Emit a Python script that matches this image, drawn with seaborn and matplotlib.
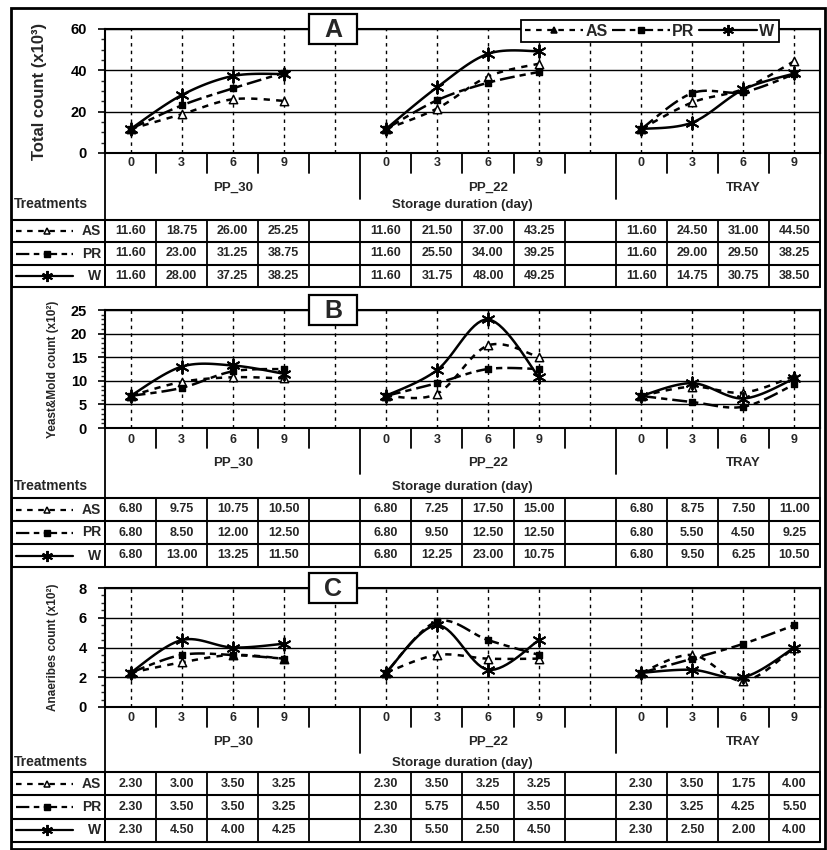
import numpy as np
import pandas as pd
import matplotlib
matplotlib.use("Agg")
import matplotlib.pyplot as plt
from matplotlib.lines import Line2D
from matplotlib.patches import Rectangle
from matplotlib.ticker import MultipleLocator
import seaborn as sns

# ---- data ----
days = [0, 3, 6, 9]
packages = ["PP_30", "PP_22", "TRAY"]
treatments = ["AS", "PR", "W"]

# panel A: total count (x10^3), 3 packages x 4 days
total_as = [11.60, 18.75, 26.00, 25.25, 11.60, 21.50, 37.00, 43.25, 11.60, 24.50, 31.00, 44.50]
total_pr = [11.60, 23.00, 31.25, 38.75, 11.60, 25.50, 34.00, 39.25, 11.60, 29.00, 29.50, 38.25]
total_w = [11.60, 28.00, 37.25, 38.25, 11.60, 31.75, 48.00, 49.25, 11.60, 14.75, 30.75, 38.50]

# panel B: yeast & mold count
yeast_as = [6.80, 9.75, 10.75, 10.50, 6.80, 7.25, 17.50, 15.00, 6.80, 8.75, 7.50, 11.00]
yeast_pr = [6.80, 8.50, 12.00, 12.50, 6.80, 9.50, 12.50, 12.50, 6.80, 5.50, 4.50, 9.25]
yeast_w = [6.80, 13.00, 13.25, 11.50, 6.80, 12.25, 23.00, 10.75, 6.80, 9.50, 6.25, 10.50]

# panel C: anaerobes count
anaer_as = [2.30, 3.00, 3.50, 3.25, 2.30, 3.50, 3.25, 3.25, 2.30, 3.50, 1.75, 4.00]
anaer_pr = [2.30, 3.50, 3.50, 3.25, 2.30, 5.75, 4.50, 3.50, 2.30, 3.25, 4.25, 5.50]
anaer_w = [2.30, 4.50, 4.00, 4.25, 2.30, 5.50, 2.50, 4.50, 2.30, 2.50, 2.00, 4.00]

# ---- figure setup ----
W_PX, H_PX = 828, 850
sns.set_theme(style="white")
plt.rcParams["font.family"] = ["Liberation Sans", "DejaVu Sans"]
plt.rcParams["font.weight"] = "bold"

fig = plt.figure(figsize=(W_PX / 100, H_PX / 100), dpi=100)
fig.patch.set_facecolor("white")


def fx(x):
    return x / W_PX


def fy(y):
    return 1 - y / H_PX


X0, X1 = 105, 820          # plot area left/right (px)
KEY_X = 12                 # left edge of the treatment key column
CW = (X1 - X0) / 14.0      # px per category slot
XL = -0.5 - (X0 - KEY_X) / CW

styles = {
    "AS": dict(dash=(2.5, 2.5), marker="^", mfc="white", ms=6, mew=1.1),
    "PR": dict(dash=(6, 2, 2.5, 2), marker="s", mfc="black", ms=5, mew=1.0),
    "W": dict(dash="", marker=(6, 2, 0), mfc="black", ms=9, mew=1.4),
}


def smooth(xs, ys, n=16):
    # Excel-like smoothed line (cubic bezier through the points)
    pts = np.column_stack([xs, ys]).astype(float)
    out = [pts[0]]
    t = np.linspace(0, 1, n)[1:, None]
    for i in range(len(pts) - 1):
        p0 = pts[max(i - 1, 0)]
        p1 = pts[i]
        p2 = pts[i + 1]
        p3 = pts[min(i + 2, len(pts) - 1)]
        c1 = p1 + (p2 - p0) / 6
        c2 = p2 - (p3 - p1) / 6
        seg = (1 - t) ** 3 * p1 + 3 * (1 - t) ** 2 * t * c1 + 3 * (1 - t) * t ** 2 * c2 + t ** 3 * p2
        out.extend(seg)
    return np.array(out)


panels = [
    dict(letter="A", series=[total_as, total_pr, total_w], ylabel="Total count (x10³)", ylsize=12, ylx=40,
         ymax=60, major=20, minor=5, top=29, bottom=153, tick_y=163, grp_y=188, lab_y=205,
         tbl_top=220, tbl_bot=287),
    dict(letter="B", series=[yeast_as, yeast_pr, yeast_w], ylabel="Yeast&Mold count (x10²)", ylsize=8.5, ylx=53,
         ymax=25, major=5, minor=1, top=310, bottom=428, tick_y=440, grp_y=463, lab_y=487,
         tbl_top=498, tbl_bot=567),
    dict(letter="C", series=[anaer_as, anaer_pr, anaer_w], ylabel="Anaeribes count (x10²)", ylsize=8.5, ylx=53,
         ymax=8, major=2, minor=0.5, top=588, bottom=707, tick_y=718, grp_y=742, lab_y=763,
         tbl_top=772, tbl_bot=842),
]

for p in panels:
    # ---------- line chart ----------
    ax = fig.add_axes([fx(X0), fy(p["bottom"]), (X1 - X0) / W_PX, (p["bottom"] - p["top"]) / H_PX])
    rows = []
    for trt, vals in zip(treatments, p["series"]):
        for g in range(len(packages)):
            xs = [g * 5 + i for i in range(len(days))]
            ys = vals[g * 4:(g + 1) * 4]
            sm = smooth(xs, ys)
            for xv, yv in sm:
                rows.append(dict(trt=trt, unit=g, x=xv, y=yv))
    sm_df = pd.DataFrame(rows)
    sns.lineplot(data=sm_df, x="x", y="y", hue="trt", style="trt", units="unit", estimator=None,
                 sort=False, palette={t: "black" for t in treatments},
                 dashes={t: styles[t]["dash"] for t in treatments}, linewidth=1.8,
                 legend=False, ax=ax, zorder=3)
    for trt, vals in zip(treatments, p["series"]):
        st = styles[trt]
        xs = [g * 5 + i for g in range(len(packages)) for i in range(len(days))]
        if trt == "W":
            sns.scatterplot(x=xs, y=vals, marker=st["marker"], s=st["ms"] ** 2, color="black",
                            linewidth=st["mew"], ax=ax, zorder=4, legend=False)
        else:
            sns.scatterplot(x=xs, y=vals, marker=st["marker"], s=st["ms"] ** 2, facecolor=st["mfc"],
                            edgecolor="black", linewidth=st["mew"], ax=ax, zorder=4, legend=False)

    ax.set_xlim(-0.5, 13.5)
    ax.set_ylim(0, p["ymax"])
    ax.set_xticks(range(14))
    ax.set_xticklabels([])
    ax.yaxis.set_major_locator(MultipleLocator(p["major"]))
    ax.yaxis.set_minor_locator(MultipleLocator(p["minor"]))
    ax.tick_params(axis="x", length=0)
    ax.tick_params(axis="y", which="major", direction="out", length=5, width=1.2, left=True,
                   labelsize=10.5, colors="black", pad=8)
    ax.tick_params(axis="y", which="minor", direction="out", length=3, width=1, left=True)
    for lbl in ax.get_yticklabels():
        lbl.set_fontweight("bold")
    ax.grid(axis="x", color="black", linestyle=(0, (2.5, 3)), linewidth=1)
    ax.grid(axis="y", which="major", color="black", linestyle="-", linewidth=1)
    ax.set_xlabel("")
    ax.set_ylabel("")
    for sp in ax.spines.values():
        sp.set_color("black")
        sp.set_linewidth(1.5)
        sp.set_visible(True)

    fig.text(fx(p["ylx"]), fy((p["top"] + p["bottom"]) / 2), p["ylabel"], rotation=90,
             ha="center", va="center", fontsize=p["ylsize"], fontweight="bold")

    # panel letter box
    fig.add_artist(Rectangle((fx(309), fy(p["top"] + 15)), 48 / W_PX, 30 / H_PX,
                             transform=fig.transFigure, facecolor="white", edgecolor="black",
                             linewidth=1.6, zorder=10))
    fig.text(fx(333), fy(p["top"] + 1), p["letter"], ha="center", va="center",
             fontsize=18, fontweight="bold", zorder=11)

    # ---------- category axis + data table ----------
    tb = fig.add_axes([fx(KEY_X), fy(p["tbl_bot"]), (X1 - KEY_X) / W_PX,
                       (p["tbl_bot"] - p["bottom"]) / H_PX])
    tb.set_xlim(XL, 13.5)
    tb.set_ylim(p["tbl_bot"], p["bottom"])
    tb.axis("off")
    lk = dict(color="black", linewidth=1.3, clip_on=False)

    b = p["bottom"]
    for k in range(13):
        xs = k + 0.5
        if k in (4, 9):
            tb.plot([xs, xs], [b, b + 46], **lk)
        else:
            tb.plot([xs, xs], [b, b + 20], **lk)
    tb.plot([-0.5, -0.5], [b, p["tbl_bot"]], **lk)
    tb.plot([13.5, 13.5], [b, p["tbl_bot"]], **lk)

    for g, pk in enumerate(packages):
        for i, d in enumerate(days):
            tb.text(g * 5 + i, p["tick_y"], str(d), ha="center", va="center", fontsize=9, fontweight="bold")
    tb.text(2, p["grp_y"], packages[0], ha="center", va="center", fontsize=9.5, fontweight="bold")
    tb.text(7, p["grp_y"], packages[1], ha="center", va="center", fontsize=9.5, fontweight="bold")
    tb.text(12, p["grp_y"], packages[2], ha="center", va="center", fontsize=9.5, fontweight="bold")
    tb.text(6.5, p["lab_y"], "Storage duration (day)", ha="center", va="center", fontsize=9.5, fontweight="bold")
    tb.text(XL + 0.03, p["lab_y"] - 1, "Treatments", ha="left", va="center", fontsize=10, fontweight="bold")

    # table grid
    rh = (p["tbl_bot"] - p["tbl_top"]) / 3.0
    for r in range(4):
        yy = p["tbl_top"] + r * rh
        tb.plot([XL, 13.5], [yy, yy], color="black", linewidth=1.5, clip_on=False)
    for xs in [XL, -0.5] + [k + 0.5 for k in range(14)]:
        tb.plot([xs, xs], [p["tbl_top"], p["tbl_bot"]], color="black", linewidth=1.3, clip_on=False)

    for r, (trt, vals) in enumerate(zip(treatments, p["series"])):
        yc = p["tbl_top"] + (r + 0.5) * rh
        st = styles[trt]
        ls = "-" if st["dash"] == "" else (0, st["dash"])
        tb.plot([XL + 0.08, XL + 1.2], [yc, yc], color="black", linewidth=1.6, linestyle=ls, clip_on=False)
        tb.plot([XL + 0.68], [yc], marker=st["marker"], color="black", markerfacecolor=st["mfc"],
                markeredgecolor="black", markersize=st["ms"] - 1, markeredgewidth=st["mew"], clip_on=False)
        tb.text(-0.58, yc, trt, ha="right", va="center", fontsize=10, fontweight="bold")
        for g in range(len(packages)):
            for i in range(len(days)):
                tb.text(g * 5 + i, yc, f"{vals[g * 4 + i]:.2f}", ha="center", va="center",
                        fontsize=9, fontweight="bold")

# legend at the top right of panel A
handles = []
for trt in treatments:
    st = styles[trt]
    ls = "-" if st["dash"] == "" else (0, st["dash"])
    handles.append(Line2D([], [], color="black", linestyle=ls, linewidth=1.6, marker=st["marker"],
                          markerfacecolor="black", markeredgecolor="black", markersize=st["ms"] - 1,
                          markeredgewidth=st["mew"]))
leg = fig.legend(handles, treatments, loc="center", bbox_to_anchor=(fx(650), fy(31)), ncol=3,
                 frameon=True, fancybox=False, edgecolor="black", framealpha=1, handlelength=3.6,
                 columnspacing=0.3, handletextpad=0.15, borderpad=0.25, fontsize=11.5,
                 prop=dict(weight="bold", size=11.5))
leg.get_frame().set_linewidth(1.3)
leg.set_zorder(12)

# outer frame
fig.add_artist(Rectangle((fx(11), fy(849)), (825 - 11) / W_PX, (849 - 8) / H_PX,
                         transform=fig.transFigure, fill=False, edgecolor="black", linewidth=2))

plt.savefig("out.png", dpi=100)
